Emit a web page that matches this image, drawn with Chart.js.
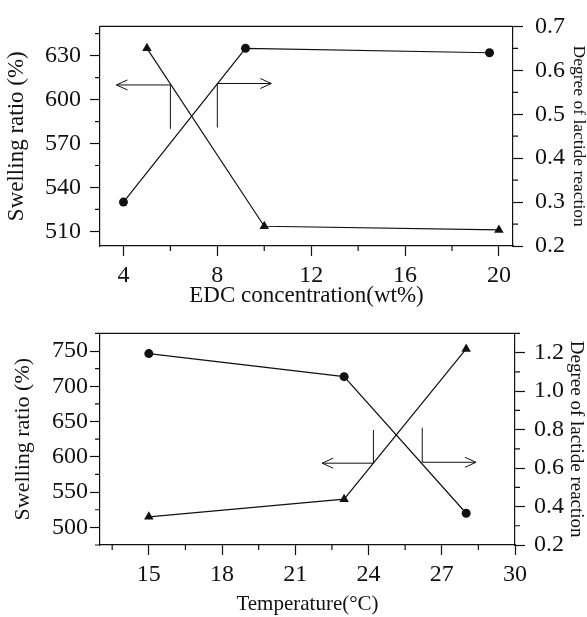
<!DOCTYPE html>
<html>
<head>
<meta charset="utf-8">
<script src="https://cdn.jsdelivr.net/npm/chart.js@4.4.1/dist/chart.umd.min.js"></script>
<style>
    html, body { margin: 0; padding: 0; background: #fff; }
    #wrap { position: relative; width: 587px; height: 617px; overflow: hidden; }
    canvas { position: absolute; left: 0; }
</style>
</head>
<body>
<div id="wrap">
    <canvas id="edcChart" width="587" height="310" style="top:0"></canvas>
    <canvas id="tempChart" width="587" height="307" style="top:310px"></canvas>
</div>
<script>
// --- DATA: EDC concentration panel ---
const edcCircleX = [4, 9.2, 19.6];
const edcCircleY = [0.30, 0.65, 0.64];        // degree of lactide reaction (right axis)
const edcTriX = [5, 10, 20];
const edcTriY = [635, 513.5, 511];             // swelling ratio (left axis)
const edcXTicks = [4, 8, 12, 16, 20];
const edcXMinor = [6, 10, 14, 18];
const edcLeftTicks = [510, 540, 570, 600, 630];
const edcLeftMinor = [525, 555, 585, 615, 645];
const edcRightTicks = [0.2, 0.3, 0.4, 0.5, 0.6, 0.7];
const edcRightMinor = [0.25, 0.35, 0.45, 0.55, 0.65];
const edcArrowLeft = [[6, 580], [6, 610], [3.7, 610]];
const edcArrowRight = [[8, 0.47], [8, 0.57], [10.3, 0.57]];

// --- DATA: Temperature panel ---
const tempX = [15, 23, 28];
const tempCircleY = [1.195, 1.075, 0.365];     // degree of lactide reaction (right axis)
const tempTriY = [515, 540, 753];              // swelling ratio (left axis)
const tempXTicks = [15, 18, 21, 24, 27, 30];
const tempXMinor = [13.5, 16.5, 19.5, 22.5, 25.5, 28.5];
const tempLeftTicks = [500, 550, 600, 650, 700, 750];
const tempLeftMinor = [475, 525, 575, 625, 675, 725, 775];
const tempRightTicks = [0.2, 0.4, 0.6, 0.8, 1.0, 1.2];
const tempRightMinor = [0.3, 0.5, 0.7, 0.9, 1.1, 1.3];
const tempArrowLeft = [[24.2, 638], [24.2, 591], [22.1, 591]];
const tempArrowRight = [[26.2, 0.81], [26.2, 0.63], [28.4, 0.63]];

const INK = '#111';
const SERIF = "'Liberation Serif', 'Times New Roman', serif";

const toPoints = (xs, ys) => xs.map((x, i) => ({ x: x, y: ys[i] }));

// frame, minor ticks and the two arrows
const decorPlugin = {
    id: 'decor',
    afterDraw(chart, args, opts) {
        const ctx = chart.ctx;
        const { left, right, top, bottom } = chart.chartArea;
        const sx = chart.scales.x, sy = chart.scales.y, sy2 = chart.scales.y2;
        ctx.save();
        ctx.strokeStyle = INK;
        ctx.lineWidth = 1.2;
        ctx.beginPath();
        ctx.moveTo(left, top); ctx.lineTo(right, top);
        opts.xMinor.forEach(v => { const p = sx.getPixelForValue(v); ctx.moveTo(p, bottom); ctx.lineTo(p, bottom + 5); });
        opts.leftMinor.forEach(v => { const p = sy.getPixelForValue(v); ctx.moveTo(left - 5, p); ctx.lineTo(left, p); });
        opts.rightMinor.forEach(v => { const p = sy2.getPixelForValue(v); ctx.moveTo(right, p); ctx.lineTo(right + 5, p); });
        ctx.stroke();

        const drawArrow = (pts, scaleY) => {
            const px = pts.map(p => [sx.getPixelForValue(p[0]), scaleY.getPixelForValue(p[1])]);
            ctx.beginPath();
            ctx.moveTo(px[0][0], px[0][1]);
            px.slice(1).forEach(p => ctx.lineTo(p[0], p[1]));
            const [ex, ey] = px[px.length - 1];
            const dir = Math.sign(ex - px[px.length - 2][0]);
            ctx.moveTo(ex - dir * 11, ey - 5);
            ctx.lineTo(ex, ey);
            ctx.lineTo(ex - dir * 11, ey + 5);
            ctx.stroke();
        };
        ctx.lineWidth = 1;
        drawArrow(opts.arrowLeft, sy);
        drawArrow(opts.arrowRight, sy2);
        ctx.restore();
    }
};

const fixedTicks = (list) => (scale) => { scale.ticks = list.map(v => ({ value: v })); };

const makeChart = (id, p) => {
    const ctx = document.getElementById(id).getContext('2d');
    return new Chart(ctx, {
        type: 'line',
        data: {
            datasets: [{
                data: toPoints(p.circleX, p.circleY),
                yAxisID: 'y2',
                borderColor: INK,
                borderWidth: 1.2,
                backgroundColor: INK,
                pointStyle: 'circle',
                pointRadius: 4.5,
                pointBorderWidth: 0
            }, {
                data: toPoints(p.triX, p.triY),
                yAxisID: 'y',
                borderColor: INK,
                borderWidth: 1.2,
                backgroundColor: INK,
                pointStyle: 'triangle',
                pointRadius: 5.5,
                pointBorderWidth: 0
            }]
        },
        options: {
            responsive: false,
            animation: false,
            events: [],
            layout: { padding: { top: p.padTop, left: 0, right: 0, bottom: 0 } },
            plugins: {
                legend: { display: false },
                tooltip: { enabled: false },
                decor: p.decor
            },
            scales: {
                x: {
                    type: 'linear',
                    min: p.xMin, max: p.xMax,
                    afterBuildTicks: fixedTicks(p.xTicks),
                    afterFit: (s) => { s.height = p.xHeight; },
                    grid: { drawOnChartArea: false, tickLength: 10, tickColor: INK, tickWidth: 1.2 },
                    border: { color: INK, width: 1.2 },
                    ticks: { color: INK, padding: p.xTickPad, maxRotation: 0, autoSkip: false, font: { family: SERIF, size: p.tickSize } },
                    title: { display: true, text: p.xTitle, color: INK, padding: { top: p.xTitlePad, bottom: 0 }, font: { family: SERIF, size: p.xTitleSize } }
                },
                y: {
                    position: 'left',
                    min: p.leftMin, max: p.leftMax,
                    afterBuildTicks: fixedTicks(p.leftTicks),
                    afterFit: (s) => { s.width = 100; },
                    grid: { drawOnChartArea: false, tickLength: 10, tickColor: INK, tickWidth: 1.2 },
                    border: { color: INK, width: 1.2 },
                    ticks: { color: INK, padding: p.leftTickPad, font: { family: SERIF, size: p.tickSize } },
                    title: { display: true, text: 'Swelling ratio (%)', color: INK, padding: { top: p.leftTitlePad, bottom: 0 }, font: { family: SERIF, size: p.leftTitleSize } }
                },
                y2: {
                    position: 'right',
                    min: p.rightMin, max: p.rightMax,
                    afterBuildTicks: fixedTicks(p.rightTicks),
                    afterFit: (s) => { s.width = p.rightWidth; },
                    grid: { drawOnChartArea: false, tickLength: 10, tickColor: INK, tickWidth: 1.2 },
                    border: { color: INK, width: 1.2 },
                    ticks: { color: INK, padding: p.rightTickPad, callback: (v) => v.toFixed(1), font: { family: SERIF, size: p.tickSize } },
                    title: { display: true, text: 'Degree of lactide reaction', color: INK, padding: { top: p.rightTitlePad, bottom: 0 }, font: { family: SERIF, size: p.rightTitleSize, lineHeight: 1 } }
                }
            }
        },
        plugins: [decorPlugin]
    });
};

makeChart('edcChart', {
    circleX: edcCircleX, circleY: edcCircleY, triX: edcTriX, triY: edcTriY,
    xMin: 3, xMax: 20.6, xTicks: edcXTicks,
    leftMin: 500, leftMax: 650, leftTicks: edcLeftTicks,
    rightMin: 0.2, rightMax: 0.7, rightTicks: edcRightTicks,
    padTop: 16, xHeight: 64, rightWidth: 74,
    tickSize: 24, xTickPad: 5, leftTickPad: 9, rightTickPad: 12,
    xTitle: 'EDC concentration(wt%)', xTitleSize: 23, xTitlePad: 3,
    leftTitleSize: 23, leftTitlePad: 3,
    rightTitleSize: 17.5, rightTitlePad: 0,
    decor: { xMinor: edcXMinor, leftMinor: edcLeftMinor, rightMinor: edcRightMinor, arrowLeft: edcArrowLeft, arrowRight: edcArrowRight }
});

makeChart('tempChart', {
    circleX: tempX, circleY: tempCircleY, triX: tempX, triY: tempTriY,
    xMin: 13, xMax: 30, xTicks: tempXTicks,
    leftMin: 475, leftMax: 775, leftTicks: tempLeftTicks,
    rightMin: 0.2, rightMax: 1.3, rightTicks: tempRightTicks,
    padTop: 5, xHeight: 72, rightWidth: 72,
    tickSize: 24, xTickPad: 5, leftTickPad: 2, rightTickPad: 9,
    xTitle: 'Temperature(\u00B0C)', xTitleSize: 21, xTitlePad: 10,
    leftTitleSize: 22, leftTitlePad: 10,
    rightTitleSize: 19, rightTitlePad: 2,
    decor: { xMinor: tempXMinor, leftMinor: tempLeftMinor, rightMinor: tempRightMinor, arrowLeft: tempArrowLeft, arrowRight: tempArrowRight }
});
</script>
</body>
</html>
